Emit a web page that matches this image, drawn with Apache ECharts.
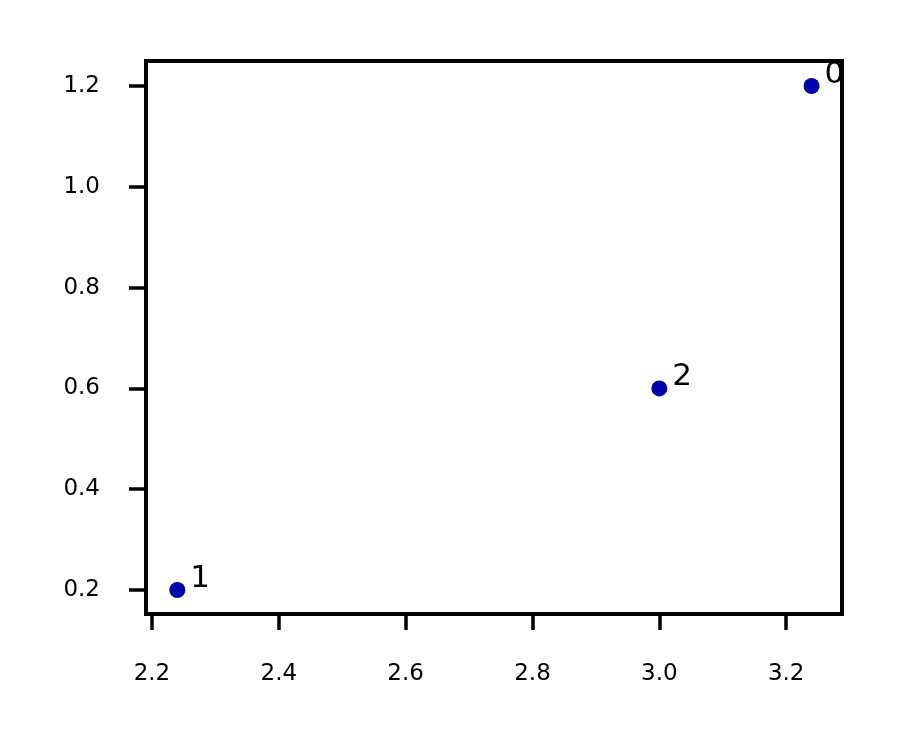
<!DOCTYPE html>
<html><head><meta charset="utf-8">
<script src="https://cdn.jsdelivr.net/npm/echarts@6/dist/echarts.min.js"></script>
<style>html,body{margin:0;padding:0;background:#fff}#c{width:905px;height:745px}</style>
</head><body><div id="c"></div>
<script>
const xValues = [3.24, 2.24, 3.0];
const yValues = [1.2, 0.2, 0.6];
const pointLabels = ['0', '1', '2'];
const xTicks = [2.2, 2.4, 2.6, 2.8, 3.0, 3.2];
const yTicks = [0.2, 0.4, 0.6, 0.8, 1.0, 1.2];

const chart = echarts.init(document.getElementById('c'), null, {renderer: 'canvas'});
const font = 'DejaVu Sans';
const data = xValues.map((x, i) => ({value: [x, yValues[i]], name: pointLabels[i]}));
chart.setOption({
  animation: false,
  backgroundColor: '#fff',
  grid: {left: 146, top: 61, right: 63, bottom: 131, show: false},
  xAxis: {
    type: 'value', min: 2.1906, max: 3.288,
    axisLine: {show: false},
    splitLine: {show: false},
    axisTick: {show: true, length: 16, lineStyle: {color: '#000', width: 3.5}, customValues: xTicks},
    axisLabel: {fontFamily: font, fontSize: 23, color: '#000', margin: 60, verticalAlign: 'middle',
      customValues: xTicks, formatter: v => v.toFixed(1)}
  },
  yAxis: {
    type: 'value', min: 0.1524, max: 1.2496,
    axisLine: {show: false},
    splitLine: {show: false},
    axisTick: {show: true, length: 17, lineStyle: {color: '#000', width: 3.5}, customValues: yTicks},
    axisLabel: {fontFamily: font, fontSize: 23, color: '#000', margin: 46,
      customValues: yTicks, formatter: v => v.toFixed(1)}
  },
  series: [{
    type: 'scatter',
    data: data,
    symbol: 'circle', symbolSize: 16,
    itemStyle: {color: '#0000aa', opacity: 1},
    emphasis: {disabled: true},
    label: {show: true, position: 'right', distance: 5, offset: [0, -11], opacity: 1,
      formatter: p => p.name, fontFamily: font, fontSize: 31, color: '#000'}
  }]
});
const rect = chart.getModel().getComponent('grid').coordinateSystem.getRect();
chart.setOption({
  graphic: [
    {type: 'rect', z: 200, shape: {x: rect.x + rect.width + 2, y: rect.y - 20, width: 40, height: 60}, style: {fill: '#fff'}},
    {type: 'rect', z: 201, shape: {x: rect.x, y: rect.y, width: rect.width, height: rect.height},
     style: {fill: null, stroke: '#000', lineWidth: 4}}
  ]
});
</script></body></html>
